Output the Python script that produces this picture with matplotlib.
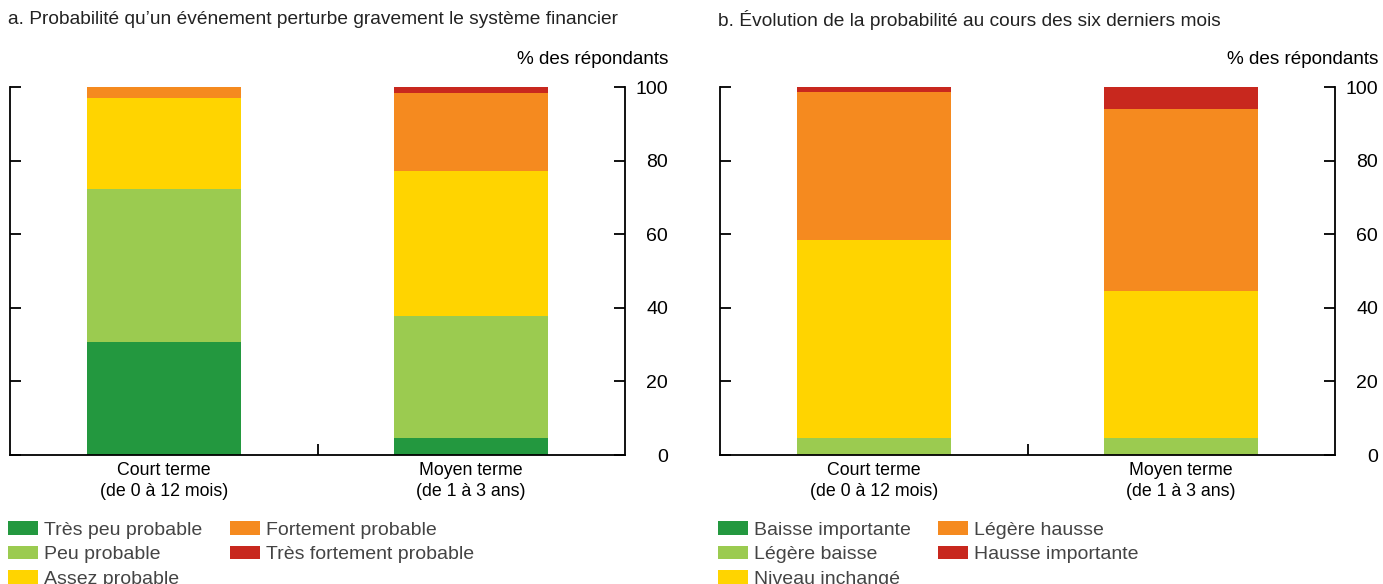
import numpy as np
import matplotlib.pyplot as plt

plt.rcParams['font.family'] = ['Liberation Sans', 'DejaVu Sans']

periods = ['Court terme\n(de 0 à 12 mois)', 'Moyen terme\n(de 1 à 3 ans)']
colors = ['#23983f', '#9bcb50', '#ffd400', '#f58a1f', '#c8281e']

# panel a: probabilité d'un événement
labels_a = ['Très peu probable', 'Peu probable', 'Assez probable',
            'Fortement probable', 'Très fortement probable']
vals_a = [
    [30.7, 4.6],   # très peu probable
    [41.6, 33.2],  # peu probable
    [24.7, 39.4],  # assez probable
    [3.0, 21.2],   # fortement probable
    [0.0, 1.6],    # très fortement probable
]

# panel b: évolution sur six mois
labels_b = ['Baisse importante', 'Légère baisse', 'Niveau inchangé',
            'Légère hausse', 'Hausse importante']
vals_b = [
    [0.0, 0.0],
    [4.6, 4.6],
    [53.8, 40.0],
    [40.2, 49.4],
    [1.4, 6.0],
]

titles = ['a. Probabilité qu\u2019un événement perturbe gravement le système financier',
          'b. Évolution de la probabilité au cours des six derniers mois']

W, H = 1383, 584
fig = plt.figure(figsize=(W / 100, H / 100), dpi=100)


def panel(x0, title, labels, vals):
    ax = fig.add_axes([x0 / W, 1 - 455 / H, 615 / W, 368 / H])
    x = np.arange(len(periods))
    bottom = np.zeros(len(periods))
    handles = []
    for lab, v, c in zip(labels, vals, colors):
        b = ax.bar(x, v, 0.5, bottom=bottom, color=c, label=lab, linewidth=0)
        handles.append(b)
        bottom += np.array(v)
    ax.set_xlim(-0.5, 1.5)
    ax.set_ylim(0, 100)
    ax.spines['top'].set_visible(False)
    for s in ['left', 'right', 'bottom']:
        ax.spines[s].set_linewidth(1.3)
    ax.set_yticks(np.arange(0, 101, 20))
    ax.tick_params(axis='y', left=True, right=True, labelleft=False, labelright=True,
                   direction='in', length=8, width=1.3, labelsize=14, pad=31)
    for t in ax.get_yticklabels():
        t.set_horizontalalignment('right')
    ax.set_xticks(x)
    ax.set_xticklabels(periods, fontsize=12.8, linespacing=1.3)
    ax.tick_params(axis='x', which='major', length=0, pad=5)
    ax.set_xticks([0.5], minor=True)
    ax.tick_params(axis='x', which='minor', direction='in', length=8, width=1.3)
    ax.text(1 + 43 / 615, 1 + 27 / 368, '% des répondants', transform=ax.transAxes,
            ha='right', va='center', fontsize=13.6)
    fig.text((x0 - 2) / W, 1 - 20 / H, title, ha='left', va='center',
             fontsize=13.8, color='#222222')
    fig.legend(handles=handles, labels=labels, loc='upper left',
               bbox_to_anchor=((x0 - 2) / W, 1 - 521 / H),
               ncol=2, frameon=False, fontsize=14, borderpad=0, borderaxespad=0,
               handlelength=1.55, handleheight=0.72, handletextpad=0.31,
               labelspacing=0.35, columnspacing=1.4, labelcolor='#444444')
    return ax


panel(10, titles[0], labels_a, vals_a)
panel(720, titles[1], labels_b, vals_b)

fig.savefig('out.png', dpi=100)
